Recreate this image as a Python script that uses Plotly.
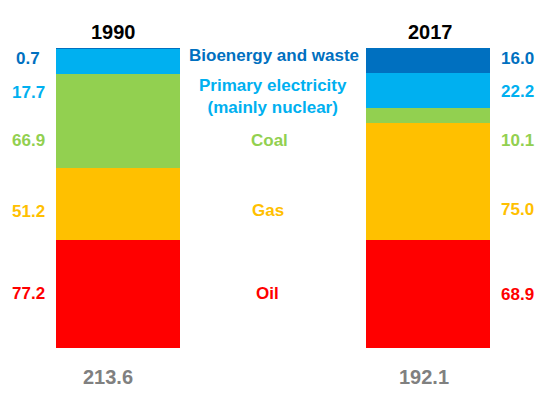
import plotly.graph_objects as go

# ---- data ----
years = ["1990", "2017"]
categories = ["Oil", "Gas", "Coal", "Primary electricity<br>(mainly nuclear)", "Bioenergy and waste"]
values_1990 = [77.2, 51.2, 66.9, 17.7, 0.7]
values_2017 = [68.9, 75.0, 10.1, 22.2, 16.0]
totals = [213.6, 192.1]
colors = ["#FF0000", "#FFC000", "#92D050", "#00B0F0", "#0070C0"]

# ---- layout constants (window pixels) ----
W, H = 554, 399
OFF = 8                    # page body margin
TOP, BOTTOM = 48, 347.7
C0, C1 = 118, 428          # bar centres
BARW = 124

def xd(px):
    return (px - C0) / (C1 - C0)

def yp(py):
    return (BOTTOM - py) / (BOTTOM - TOP)

share_1990 = [v / sum(values_1990) * 100 for v in values_1990]
share_2017 = [v / sum(values_2017) * 100 for v in values_2017]

fig = go.Figure()
for i, cat in enumerate(categories):
    fig.add_trace(go.Bar(
        x=[0, 1], y=[share_1990[i], share_2017[i]],
        width=BARW / (C1 - C0),
        marker=dict(color=colors[i], line=dict(width=0)),
        name=cat, showlegend=False, hoverinfo="skip"))

FONT = "Liberation Sans, Arial, sans-serif"
ann = []
val_rows_left = [293.3, 211, 140.8, 92.3, 58.3]
val_rows_right = [294, 209.5, 140.8, 91.3, 58.3]
cat_rows = [293.3, 210, 140, 96.5, 55]
cat_x = [267, 268, 269, 272.5, 273.5]

for i in range(len(categories)):
    ann.append(dict(x=xd(28), y=yp(val_rows_left[i]), text=f"{values_1990[i]:.1f}",
                    font=dict(color=colors[i], size=17, family=FONT)))
    ann.append(dict(x=xd(517), y=yp(val_rows_right[i]), text=f"{values_2017[i]:.1f}",
                    font=dict(color=colors[i], size=17, family=FONT)))
    ann.append(dict(x=xd(cat_x[i]), y=yp(cat_rows[i]), text=categories[i],
                    font=dict(color=colors[i], size=17, family=FONT)))

title_x = [113, 430]
total_x = [108.3, 423.7]
for j, yr in enumerate(years):
    ann.append(dict(x=xd(title_x[j]), y=yp(32), text=f"<b>{yr}</b>",
                    font=dict(color="#000000", size=20, family=FONT)))
    ann.append(dict(x=xd(total_x[j]), y=yp(377), text=f"<b>{totals[j]:.1f}</b>",
                    font=dict(color="#808080", size=20, family=FONT)))

for a in ann:
    a.update(xref="x", yref="paper", showarrow=False, xanchor="center", yanchor="middle")
    if not a["text"].startswith("<b>"):
        a["text"] = "<b>" + a["text"].replace("<br>", "</b><br><b>") + "</b>"

fig.update_layout(
    width=W, height=H,
    margin=dict(l=0, r=0, t=TOP - OFF, b=H - (BOTTOM - OFF), pad=0),
    barmode="stack",
    paper_bgcolor="white", plot_bgcolor="white",
    xaxis=dict(range=[xd(OFF), xd(W + OFF)], visible=False, fixedrange=True),
    yaxis=dict(range=[0, 100], visible=False, fixedrange=True),
    annotations=ann,
    bargap=0,
)
fig.write_html("out.html")
